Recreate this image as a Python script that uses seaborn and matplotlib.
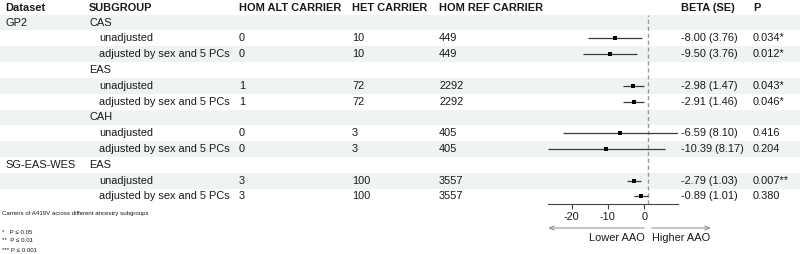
import numpy as np
import pandas as pd
import matplotlib
matplotlib.use("Agg")
import matplotlib.pyplot as plt
from matplotlib.patches import Rectangle
import seaborn as sns

# ---------------- data ----------------
row_dataset = ["GP2", "", "", "", "", "", "", "", "", "SG-EAS-WES", "", ""]
row_subgroup = ["CAS", "unadjusted", "adjusted by sex and 5 PCs",
                "EAS", "unadjusted", "adjusted by sex and 5 PCs",
                "CAH", "unadjusted", "adjusted by sex and 5 PCs",
                "EAS", "unadjusted", "adjusted by sex and 5 PCs"]
hom_alt = ["", "0", "0", "", "1", "1", "", "0", "0", "", "3", "3"]
het = ["", "10", "10", "", "72", "72", "", "3", "3", "", "100", "100"]
hom_ref = ["", "449", "449", "", "2292", "2292", "", "405", "405", "", "3557", "3557"]
beta = [np.nan, -8.00, -9.50, np.nan, -2.98, -2.91, np.nan, -6.59, -10.39, np.nan, -2.79, -0.89]
se = [np.nan, 3.76, 3.76, np.nan, 1.47, 1.46, np.nan, 8.10, 8.17, np.nan, 1.03, 1.01]
p_values = ["", "0.034", "0.012", "", "0.043", "0.046", "", "0.416", "0.204", "", "0.007", "0.380"]
headers = ["Dataset", "SUBGROUP", "HOM ALT CARRIER", "HET CARRIER", "HOM REF CARRIER", "BETA (SE)", "P"]
xticks = [-20, -10, 0]
caption = "Carriers of A419V across different ancestry subgroups"
footnotes = ["*   P \u2264 0.05", "**  P \u2264 0.01", "*** P \u2264 0.001"]
arrow_labels = ["Lower AAO", "Higher AAO"]

df = pd.DataFrame({"row": np.arange(len(beta)), "beta": beta, "se": se})
df["lo"] = df["beta"] - 1.96 * df["se"]
df["hi"] = df["beta"] + 1.96 * df["se"]


def stars(p):
    if p == "":
        return ""
    v = float(p)
    if v <= 0.001:
        return "***"
    if v <= 0.01:
        return "**"
    if v <= 0.05:
        return "*"
    return ""


# ---------------- style ----------------
sns.set_style("white")
plt.rcParams["font.family"] = ["Liberation Sans", "DejaVu Sans"]

W, H, DPI = 800, 254, 100
fig = plt.figure(figsize=(W / DPI, H / DPI), dpi=DPI)

FS = 7.9          # ~11 px
FS_SMALL = 4.4
TXT = "#1a1a1a"

ROW_TOP = 14.7
ROW_H = 15.8
HEADER_Y = 7.6

ax_bg = fig.add_axes([0, 0, 1, 1])
ax_bg.set_xlim(0, W)
ax_bg.set_ylim(H, 0)
ax_bg.axis("off")

n = len(beta)
for i in range(n):
    if i % 2 == 0:
        ax_bg.add_patch(Rectangle((0, ROW_TOP + i * ROW_H), W, ROW_H,
                                  facecolor="#eff3f2", edgecolor="none", zorder=0))

col_x = [5, 89, 239, 352, 439, 681, 753]
for x, h in zip(col_x, headers):
    ax_bg.text(x, HEADER_Y, h, fontsize=FS, fontweight="bold", va="center", ha="left", color=TXT)

for i in range(n):
    yc = ROW_TOP + (i + 0.5) * ROW_H
    indent = hom_alt[i] != ""
    ax_bg.text(col_x[0], yc, row_dataset[i], fontsize=FS, va="center", color=TXT)
    ax_bg.text(col_x[1] + (10 if indent else 0), yc, row_subgroup[i], fontsize=FS, va="center", color=TXT)
    ax_bg.text(col_x[2], yc, hom_alt[i], fontsize=FS, va="center", color=TXT)
    ax_bg.text(col_x[3], yc, het[i], fontsize=FS, va="center", color=TXT)
    ax_bg.text(col_x[4], yc, hom_ref[i], fontsize=FS, va="center", color=TXT)
    if not np.isnan(beta[i]):
        ax_bg.text(col_x[5], yc, f"{beta[i]:.2f} ({se[i]:.2f})", fontsize=FS, va="center", color=TXT)
        ax_bg.text(col_x[6], yc, p_values[i] + stars(p_values[i]), fontsize=FS, va="center", color=TXT)

ax_bg.text(1.5, 213, caption, fontsize=FS_SMALL, va="center", color=TXT)
for k, fn in enumerate(footnotes):
    ax_bg.text(1.5, 232 + 9 * k, fn, fontsize=FS_SMALL, va="center", color=TXT)

# ---------------- forest panel ----------------
left_px, right_px, top_px, bot_px = 548.3, 678.0, ROW_TOP, ROW_TOP + n * ROW_H
ax = fig.add_axes([left_px / W, (H - bot_px) / H, (right_px - left_px) / W, (bot_px - top_px) / H])
ax.patch.set_alpha(0)

valid = df.dropna()
ax.hlines(valid["row"], valid["lo"], valid["hi"], color="#3a3a3a", lw=0.9, zorder=2)
sns.scatterplot(data=valid, x="beta", y="row", marker="s", s=11, color="black",
                edgecolor="black", linewidth=0, ax=ax, zorder=3, legend=False)
ax.axvline(1, color="#9a9a9a", lw=1.0, ls=(0, (3, 2)), zorder=1)

ax.set_xlim(df["lo"].min(), df["hi"].max())
ax.set_ylim(n - 0.5, -0.5)
ax.set_xticks(xticks)
ax.set_xticklabels([str(t) for t in xticks])
ax.set_yticks([])
ax.set_xlabel("")
ax.set_ylabel("")
for s in ["top", "right", "left"]:
    ax.spines[s].set_visible(False)
ax.spines["bottom"].set_color("#444444")
ax.spines["bottom"].set_linewidth(0.8)
ax.tick_params(axis="x", length=3.6, width=0.8, color="#444444", pad=1.8,
               labelsize=FS, labelcolor=TXT, bottom=True)

arrow_y = -(228 - bot_px) / (bot_px - top_px)
lab_y = -(237.7 - bot_px) / (bot_px - top_px)
xl = ax.get_xlim()
aprops = dict(arrowstyle="->,head_length=0.35,head_width=0.15", color="#8a8a8a", lw=0.7,
              shrinkA=0, shrinkB=0)
ax.annotate("", xy=(xl[0], arrow_y), xytext=(0, arrow_y),
            xycoords=("data", "axes fraction"), textcoords=("data", "axes fraction"),
            arrowprops=aprops, annotation_clip=False)
ax.annotate("", xy=(18.3, arrow_y), xytext=(2.0, arrow_y),
            xycoords=("data", "axes fraction"), textcoords=("data", "axes fraction"),
            arrowprops=aprops, annotation_clip=False)
ax.text(0, lab_y, arrow_labels[0], transform=ax.get_xaxis_transform(), ha="right", va="center",
        fontsize=FS, color=TXT, clip_on=False)
ax.text(2.1, lab_y, arrow_labels[1], transform=ax.get_xaxis_transform(), ha="left", va="center",
        fontsize=FS, color=TXT, clip_on=False)

fig.savefig("out.png", dpi=DPI)
